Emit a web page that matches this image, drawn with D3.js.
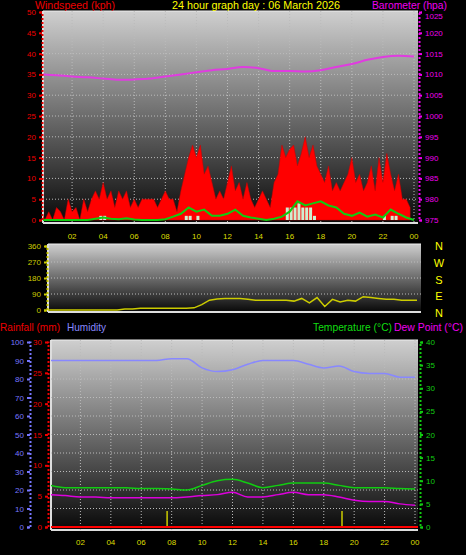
<!DOCTYPE html>
<html><head><meta charset="utf-8">
<script src="https://cdn.jsdelivr.net/npm/d3@7"></script>
<style>body{margin:0;background:#000}svg{display:block;font-family:"Liberation Sans",Arial,sans-serif}</style>
</head><body><div id="chart"></div>
<script>
// wind gust, 15 min steps (kph)
var gust=[2,0,2,0, 3,2,0,5, 2,3,0,5, 2,5,7,5, 9,5,7,3, 7,5,7,3, 5,3,5,5, 5,5,3,5,
  7,5,5,2, 7,11,15,18, 15,18,11,13, 9,5,7,5, 9,13,7,9, 5,9,5,3, 5,7,5,3, 9,11,18,15,
  17,18,13,16, 20,15,18,13, 11,9,13,7, 9,7,9,11, 15,9,11,7, 9,13,7,15, 9,16,11,7, 11,5,5,3];
// average wind, half hour steps
var avgWind=[0,0,0,0,0,0,0,0.3,0.6,0.3,0.2,0.4,0.1,0,0,0,0.2,0.8,1.5,3,2,2.5,1,1,
  1.5,2.5,1,0.6,0.3,0,0.3,0.8,2,4.5,3.5,4,4.5,3.5,3,1.5,1,1.8,0.8,1.3,0.6,2.5,1.5,0.6,0];
var lull=[0,0,0,0, 0,0,0,0, 0,0,0,0, 0,0,0,1, 1,0,0,0, 0,0,0,0, 0,0,0,0, 0,0,0,0,
  0,0,0,0, 0,1,1,0, 1,0,0,0, 0,0,0,0, 0,0,0,0, 0,0,0,0, 0,0,0,0, 0,0,0,3,
  3,3,4,3, 3,3,1,0, 0,0,0,0, 0,0,0,0, 0,0,0,0, 0,0,0,0, 1,0,1,1, 0,0,0,0];
var baro=[1010,1009.8,1009.5,1009.3,1009,1008.7,1008.8,1009,1009.5,1010,1010.5,1011,1011.3,
  1011.8,1011.5,1010.8,1010.8,1010.7,1011,1011.8,1012.5,1013.5,1014.2,1014.5,1014.3];
var windDir=[0,0,0,0,0,0,0,0,0,0,5,5,10,10,10,10,10,10,10,12,30,55,62,65,65,65,
  60,55,55,55,55,55,50,65,40,70,20,60,45,55,50,75,70,65,60,60,55,55,55];
var humidity=[90,90,90,90,90,90,90,90,91,91,86,84,85,88,90,90,90,88,86,87,84,83,83,81,81];
var temp=[9,8.5,8.5,8.5,8.5,8.5,8.3,8.3,8.2,8,9,10,10.3,9.5,8.5,9,9.5,9.5,9.5,9,8.5,8.5,8.5,8.3,8.2];
var dew=[7,6.8,6.5,6.5,6.3,6.3,6.3,6.3,6.3,6.5,6.8,7,7.5,6.5,6.5,7,7.5,7,7,6.5,5.8,5.5,5.5,5,4.7];
var rainMarks=[7.7,19.2];
var hourLabels=["02","04","06","08","10","12","14","16","18","20","22","00"];
var dirLabels=["N","W","S","E","N"];

var W=466,H=555;
var svg=d3.select("#chart").append("svg").attr("width",W).attr("height",H);
var defs=svg.append("defs");
var g=defs.append("linearGradient").attr("id","bg").attr("x1",0).attr("x2",0).attr("y1",0).attr("y2",1);
g.append("stop").attr("offset","0%").attr("stop-color","#cfcfcf");
g.append("stop").attr("offset","100%").attr("stop-color","#080808");

function panel(x0,x1,y0,y1,id){
  svg.append("rect").attr("x",x0).attr("y",y0).attr("width",x1-x0).attr("height",y1-y0).attr("fill","url(#bg)");
  defs.append("clipPath").attr("id",id).append("rect").attr("x",x0).attr("y",y0).attr("width",x1-x0).attr("height",y1-y0);
  svg.append("line").attr("x1",x0).attr("x2",x0).attr("y1",y0).attr("y2",y1).attr("stroke","#ddd").attr("stroke-width",2);
  svg.append("line").attr("x1",x0).attr("x2",x1).attr("y1",y1).attr("y2",y1).attr("stroke","#ddd").attr("stroke-width",2);
  svg.append("line").attr("x1",x0).attr("x2",x1).attr("y1",y0).attr("y2",y0).attr("stroke","#eee").attr("stroke-width",1);
}
function grid(x,y,vals,hours,x0,x1,y0,y1){
  var gg=svg.append("g").attr("stroke","#bbb").attr("stroke-dasharray","1,2").attr("stroke-width",1);
  vals.forEach(function(v){gg.append("line").attr("x1",x0).attr("x2",x1).attr("y1",y(v)).attr("y2",y(v));});
  hours.forEach(function(h){gg.append("line").attr("x1",x(h)).attr("x2",x(h)).attr("y1",y0).attr("y2",y1);});
}
function text(t,x,y,c,len,anchor){
  var s=svg.append("text").attr("x",x).attr("y",y).attr("fill",c).attr("font-size",11)
    .attr("text-anchor",anchor||"start").text(t);
  if(len) s.attr("textLength",len).attr("lengthAdjust","spacingAndGlyphs");
  return s;
}
function axis(ax,x,col){
  var a=svg.append("g").attr("transform","translate("+x+",0)").call(ax);
  a.select(".domain").attr("stroke",col).attr("stroke-dasharray","2,2").attr("stroke-width",2);
  a.selectAll("line").attr("stroke",col).attr("stroke-width",2);
  a.selectAll("text").attr("fill",col).attr("font-size",8).attr("font-family","Liberation Sans");
  return a;
}
var evenHours=d3.range(2,25,2);

// ---- top panel
var x1=d3.scaleLinear().domain([0,24]).range([41,414]);
var yW=d3.scaleLinear().domain([0,50]).range([220,12]);
var yB=d3.scaleLinear().domain([975,1025]).range([220,12]);
panel(43,418,11,223,"c1");
grid(x1,yW,d3.range(5,50,5),evenHours,43,418,11,223);
var topG=svg.append("g").attr("clip-path","url(#c1)");
topG.append("path").datum(gust).attr("fill","#f00").attr("stroke","#c00").attr("stroke-width",0.5)
  .attr("d",d3.area().x(function(d,i){return x1(i/4);}).y0(yW(0)).y1(function(d){return yW(d);}));
topG.selectAll(".lull").data(lull).enter().append("rect")
  .attr("x",function(d,i){return x1(i/4);}).attr("width",3)
  .attr("y",function(d){return yW(d);}).attr("height",function(d){return yW(0)-yW(d);}).attr("fill","#cfeecf");
topG.append("path").datum(avgWind).attr("fill","none").attr("stroke","#1c1").attr("stroke-width",2)
  .attr("d",d3.line().x(function(d,i){return x1(i/2);}).y(function(d){return yW(d);}));
topG.append("path").datum(baro).attr("fill","none").attr("stroke","#e03ce0").attr("stroke-width",2)
  .attr("d",d3.line().curve(d3.curveMonotoneX).x(function(d,i){return x1(i);}).y(function(d){return yB(d);}));
axis(d3.axisLeft(yW).tickValues(d3.range(0,51,5)).tickSize(3),42,"#e00");
var bAx=axis(d3.axisRight(yB).tickValues(d3.range(975,1026,5)).tickFormat(d3.format("d")).tickSize(3),419,"#e0e");
bAx.selectAll(".tick text").filter(function(d){return d===1025;}).attr("dy","0.75em");
svg.selectAll(".h1").data(hourLabels).enter().append("text").attr("x",function(d,i){return x1(evenHours[i]);})
  .attr("y",239).attr("text-anchor","middle").attr("fill","#dd0").attr("font-size",8).text(function(d){return d;});
text("Windspeed (kph)",35,9,"#e00",80);
text("24 hour graph day : 06 March 2026",172,9,"#ff0",168);
text("Barometer (hpa)",372,9,"#e0e",75);

// ---- wind direction
var x2=d3.scaleLinear().domain([0,24]).range([48,417]);
var yD=d3.scaleLinear().domain([0,360]).range([310,246]);
panel(48,421,244,312,"c2");
grid(x2,yD,[90,180,270],[],48,421,244,312);
svg.append("g").attr("clip-path","url(#c2)").append("path").datum(windDir).attr("fill","none")
  .attr("stroke","#cc0").attr("stroke-width",1.5)
  .attr("d",d3.line().x(function(d,i){return x2(i/2);}).y(function(d){return yD(d);}));
axis(d3.axisLeft(yD).tickValues([0,90,180,270,360]).tickSize(3),47,"#cc0");
dirLabels.forEach(function(d,i){text(d,439,250+i*16.8,"#ff0",null,"middle");});

// ---- bottom panel
text("Rainfall (mm)",0,331,"#e00",60);
text("Humidity",67,331,"#88f",39);
text("Temperature (°C)",313,331,"#1d1",79);
text("Dew Point (°C)",394,331,"#e0e",69);
var x3=d3.scaleLinear().domain([0,24]).range([50,415]);
var yH=d3.scaleLinear().domain([0,100]).range([527,342]);
var yR=d3.scaleLinear().domain([0,30]).range([527,342]);
var yT=d3.scaleLinear().domain([0,40]).range([527,342]);
panel(51,418,340,530,"c3");
grid(x3,yH,d3.range(10,100,10),evenHours,51,418,340,530);
var bot=svg.append("g").attr("clip-path","url(#c3)");
rainMarks.forEach(function(h){bot.append("line").attr("x1",x3(h)).attr("x2",x3(h)).attr("y1",yR(0)).attr("y2",yR(2.6))
  .attr("stroke","#cc0").attr("stroke-width",1.5);});
function series(data,y,col){
  bot.append("path").datum(data).attr("fill","none").attr("stroke",col).attr("stroke-width",1.5)
    .attr("d",d3.line().curve(d3.curveMonotoneX).x(function(d,i){return x3(i);}).y(function(d){return y(d);}));
}
series(humidity,yH,"#88f");
series(temp,yT,"#1c1");
series(dew,yT,"#d0d");
bot.append("line").attr("x1",51).attr("x2",418).attr("y1",yR(0)).attr("y2",yR(0)).attr("stroke","#f00").attr("stroke-width",2);
axis(d3.axisLeft(yH).tickValues(d3.range(0,101,10)).tickSize(3),30,"#77f");
axis(d3.axisLeft(yR).tickValues(d3.range(0,31,5)).tickSize(3),48,"#e00");
axis(d3.axisRight(yT).tickValues(d3.range(0,41,5)).tickSize(3),420,"#1c1");
svg.selectAll(".h3").data(hourLabels).enter().append("text").attr("x",function(d,i){return x3(evenHours[i]);})
  .attr("y",545).attr("text-anchor","middle").attr("fill","#dd0").attr("font-size",8).text(function(d){return d;});
</script></body></html>
